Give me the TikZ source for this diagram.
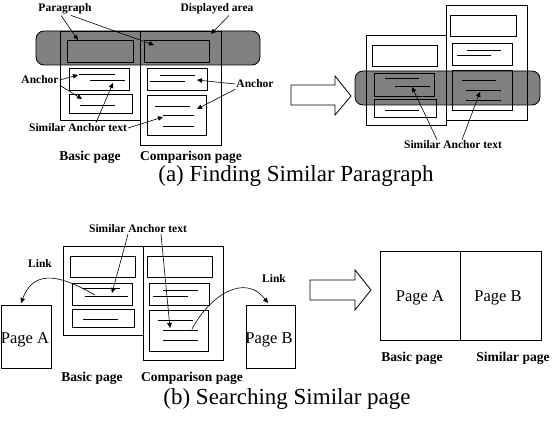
\documentclass[tikz,border=0pt]{standalone}
\usepackage{fontspec}
\setmainfont{Liberation Serif}
\usetikzlibrary{arrows.meta}
\definecolor{band}{RGB}{128,128,128}
\tikzset{
  lbl/.style={font=\bfseries\fontsize{11.5}{13}\selectfont, inner sep=1pt},
  pglbl/.style={font=\bfseries\fontsize{13.5}{15}\selectfont, inner sep=1pt},
  captxt/.style={font=\fontsize{23}{26}\selectfont, inner sep=1pt},
  pgtxt/.style={font=\fontsize{16.5}{18}\selectfont, inner sep=1pt},
  bx/.style={draw, line width=0.8pt},
  ln/.style={line width=0.8pt},
  bandbox/.style={draw, line width=0.8pt, fill=band, rounded corners=8pt},
  arr/.style={line width=0.6pt, -{Triangle[length=5pt,width=4.5pt]}},
  bigarrow/.style={draw, line width=0.8pt, fill=white}
}
\begin{document}
\begin{tikzpicture}[x=1pt,y=-1pt]
\useasboundingbox (0,0) rectangle (560,425);
\fill[white] (0,0) rectangle (560,425);

% ---------- (a) left ----------
\draw[bandbox] (36,31) rectangle (260,65);
\draw[bx] (60,31) rectangle (140,120);
\draw[bx] (140,31) rectangle (221,145);
\draw[bx] (67,40) rectangle (133,62);
\draw[bx] (144,40) rectangle (209,62);
\draw[bx] (69,68) rectangle (129,90);
\draw[ln] (79,74) -- (115,74) (90,80) -- (125,80);
\draw[bx] (69,94) rectangle (132,113);
\draw[ln] (80,105) -- (115,105);
\draw[bx] (147,68) rectangle (207,90);
\draw[ln] (160,75) -- (195,75) (150,81) -- (185,81);
\draw[bx] (147,95) rectangle (206,135);
\draw[ln] (155,106) -- (190,106) (163,115) -- (194,115) (163,126) -- (194,126);

\node[lbl] (par) at (65,9) {Paragraph};
\node[lbl] (disp) at (217,9) {Displayed area};
\node[lbl] (ancL) at (40,80) {Anchor};
\node[lbl] (ancR) at (255,84) {Anchor};
\node[lbl] (simA) at (78,128) {Similar Anchor text};
\node[pglbl] (bpA) at (90,157) {Basic page};
\node[pglbl] (cpA) at (191,157) {Comparison page};
\node[captxt] (capA) at (296,176) {(a) Finding Similar Paragraph};

\coordinate (tP1) at (78,40);
\coordinate (tP2) at (154,45);
\coordinate (tD) at (211,34);
\coordinate (tAL1) at (78,75);
\coordinate (tAL2) at (82,99);
\coordinate (tAR1) at (197,80);
\coordinate (tAR2) at (197,109);
\coordinate (tS1) at (113,83);
\coordinate (tS2) at (163,117);
\draw[arr] ([xshift=-4pt]par.south) -- (tP1);
\draw[arr] ([xshift=6pt]par.south) -- (tP2);
\draw[arr] ([xshift=12pt]disp.south) -- (tD);
\draw[arr] (ancL.east) -- (tAL1);
\draw[arr] (ancL.south east) -- (tAL2);
\draw[arr] (ancR.west) -- (tAR1);
\draw[arr] (ancR.south west) -- (tAR2);
\draw[arr] ([xshift=18pt]simA.north) -- (tS1);
\draw[arr] (simA.east) -- (tS2);

% ---------- (a) right ----------
\draw[bigarrow] (291,85) -- (335,85) -- (335,76) -- (351,96) -- (335,115) -- (335,105) -- (291,105) -- cycle;
\draw[bandbox] (355,71) rectangle (540,105);
\draw[bx] (366,35) rectangle (446,125);
\draw[bx] (372,45) rectangle (437,66);
\draw[bx] (374,73) rectangle (434,96);
\draw[ln] (385,78) -- (419,78) (395,86) -- (430,86);
\draw[bx] (374,99) rectangle (436,117);
\draw[ln] (385,110) -- (419,110);
\draw[bx] (446,5) rectangle (527,120);
\draw[bx] (450,15) rectangle (516,36);
\draw[bx] (452,43) rectangle (512,65);
\draw[ln] (467,50) -- (501,50) (457,55) -- (491,55);
\draw[bx] (452,70) rectangle (512,110);
\draw[ln] (462,80) -- (496,80) (466,90) -- (501,90) (466,100) -- (501,100);

\node[lbl] (simR) at (453,145) {Similar Anchor text};
\coordinate (tR1) at (412,87);
\coordinate (tR2) at (480,92);
\draw[arr] ([xshift=-16pt]simR.north) -- (tR1);
\draw[arr] ([xshift=9pt]simR.north) -- (tR2);

% ---------- (b) left ----------
\draw[bx] (63,246) rectangle (143,335);
\draw[bx] (70,256) rectangle (135,277);
\draw[bx] (72,283) rectangle (132,305);
\draw[ln] (82,288) -- (120,288) (85,296) -- (128,296);
\draw[bx] (72,309) rectangle (134,327);
\draw[ln] (83,319) -- (118,319);
\draw[bx] (143,246) rectangle (223,360);
\draw[bx] (147,256) rectangle (212,277);
\draw[bx] (149,283) rectangle (209,305);
\draw[ln] (163,290) -- (198,290) (153,296) -- (188,296);
\draw[bx] (149,310) rectangle (208,351);
\draw[ln] (158,320) -- (193,320) (163,330) -- (198,330) (163,340) -- (198,340);

\node[bx, minimum width=50pt, minimum height=63pt, inner sep=0pt, anchor=north west] (pA) at (0.5,305) {};
\node[pgtxt] (pAt) at (25,340) {Page A};
\node[bx, minimum width=49pt, minimum height=63pt, inner sep=0pt, anchor=north west] (pB) at (246,305) {};
\node[pgtxt] (pBt) at (269,340) {Page B};

\node[lbl] (simB) at (138,229) {Similar Anchor text};
\node[lbl] (linkL) at (40,264) {Link};
\node[lbl] (linkR) at (274,279) {Link};
\node[pglbl] (bpB) at (92,378) {Basic page};
\node[pglbl] (cpB) at (192,378) {Comparison page};

\coordinate (sL) at (95,295);
\coordinate (tL) at (21,303);
\coordinate (sR) at (192,329);
\coordinate (tRr) at (268,303);
\draw[arr] (sL) .. controls (65,278) and (35,266) .. (tL);
\draw[arr] (sR) .. controls (210,295) and (245,273) .. (tRr);
\coordinate (tB1) at (112,293);
\coordinate (tB2) at (170,328);
\draw[arr] ([xshift=-10pt]simB.south) -- (tB1);
\draw[arr] ([xshift=23pt]simB.south) -- (tB2);

% ---------- (b) right ----------
\draw[bigarrow] (310,280) -- (355,280) -- (355,270) -- (371,290) -- (355,310) -- (355,300) -- (310,300) -- cycle;
\node[bx, minimum width=80pt, minimum height=89pt, inner sep=0pt, anchor=north west] (bigA) at (380,251) {};
\node[bx, minimum width=81pt, minimum height=89pt, inner sep=0pt, anchor=north west] (bigB) at (460,251) {};
\node[pgtxt] (bAt) at (420,298) {Page A};
\node[pgtxt] (bBt) at (498,298) {Page B};
\node[pglbl] (bpC) at (412,358) {Basic page};
\node[pglbl] (spC) at (513,358) {Similar page};
\node[captxt] (capB) at (287,399) {(b) Searching Similar page};
\end{tikzpicture}
\end{document}
